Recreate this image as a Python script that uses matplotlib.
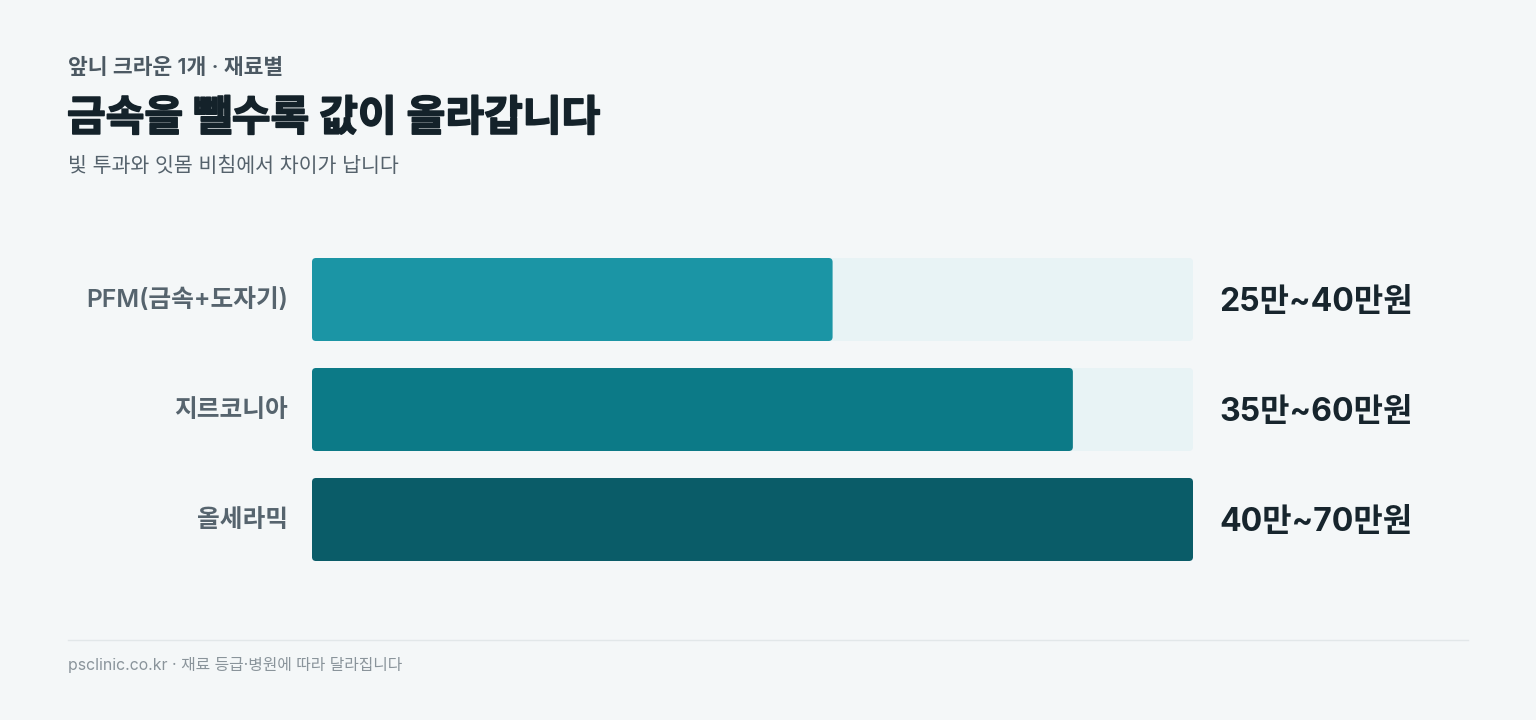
import matplotlib
matplotlib.use('Agg')
import matplotlib.pyplot as plt
import matplotlib.patheffects as pe
from matplotlib.patches import FancyBboxPatch

plt.rcParams['font.family'] = ['Inter', 'Noto Sans CJK KR', 'DejaVu Sans']

# data
materials = ['PFM(금속+도자기)', '지르코니아', '올세라믹']
price_low = [25, 35, 40]
price_high = [40, 60, 70]
price_labels = ['25만~40만원', '35만~60만원', '40만~70만원']
bar_colors = ['#1b95a5', '#0c7a87', '#0a5c68']

kicker = '앞니 크라운 1개 · 재료별'
title = '금속을 뺄수록 값이 올라갑니다'
subtitle = '빛 투과와 잇몸 비침에서 차이가 납니다'
footer = 'psclinic.co.kr · 재료 등급·병원에 따라 달라집니다'

BG = '#f4f7f8'
W, H = 1536, 720

fig = plt.figure(figsize=(W / 100, H / 100), dpi=100, facecolor=BG)


def fx(px):
    return px / W


def fy(py):
    return 1 - py / H


# bars occupy x 312..1193, y 258..561
ax = fig.add_axes([fx(312), fy(561), fx(1193) - fx(312), (561 - 258) / H])
ax.set_facecolor('none')
ax.axis('off')

mids = [(lo + hi) / 2 for lo, hi in zip(price_low, price_high)]
xmax = max(mids)
bar_h = 83 / 110
ypos = list(range(len(materials)))
ax.set_xlim(0, xmax)
ax.set_ylim(len(materials) - 1 + bar_h / 2, -bar_h / 2)

px_per_x = 881 / xmax
px_per_y = 110
r = 4 / px_per_x
aspect = (4 / px_per_y) / r

tracks = ax.barh(ypos, [xmax] * len(ypos), height=bar_h, color='none')
bars = ax.barh(ypos, mids, height=bar_h, color='none')
for group, colors in [(tracks, ['#e8f3f5'] * 3), (bars, bar_colors)]:
    for b, c in zip(group, colors):
        x0, y0, w, h = b.get_x(), b.get_y(), b.get_width(), b.get_height()
        ax.add_patch(FancyBboxPatch((x0, y0), w, h,
                                    boxstyle=f'round,pad=0,rounding_size={r}',
                                    mutation_aspect=aspect,
                                    facecolor=c, edgecolor='none'))

for y, name, lab in zip(ypos, materials, price_labels):
    ax.annotate(name, (0, y), xytext=(-24, -1), textcoords='offset pixels',
                ha='right', va='center', fontsize=17.8, fontweight='semibold',
                color='#56646e')
    ax.annotate(lab, (xmax, y), xytext=(26, -3), textcoords='offset pixels',
                ha='left', va='center', fontsize=23, fontweight='bold',
                color='#17252d')

fig.text(fx(68), fy(68), kicker, ha='left', va='center', fontsize=15.5,
         fontweight='semibold', color='#4c5963')
fig.text(fx(67), fy(119), title, ha='left', va='center', fontsize=30.3,
         fontweight='bold', color='#14222a',
         path_effects=[pe.withStroke(linewidth=1.2, foreground='#14222a')])
fig.text(fx(68), fy(166), subtitle, ha='left', va='center', fontsize=14.8,
         color='#55626c')

fig.add_artist(plt.Line2D([fx(68), fx(1468)], [fy(640), fy(640)],
                          color='#e2e7e9', lw=1))
fig.text(fx(68), fy(665), footer, ha='left', va='center', fontsize=11.4,
         color='#8a949b')

fig.savefig('out.png', dpi=100, facecolor=BG)
